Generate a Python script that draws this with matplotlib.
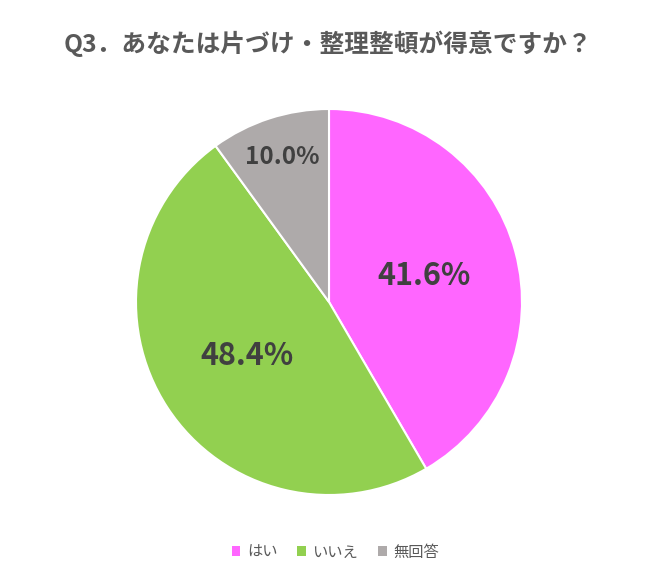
import numpy as np
import matplotlib.pyplot as plt
from matplotlib.patches import Patch

plt.rcParams['font.family'] = ['Noto Sans CJK JP', 'DejaVu Sans']

title = "Q3．あなたは片づけ・整理整頓が得意ですか？"
labels = ["はい", "いいえ", "無回答"]
values = [41.6, 48.4, 10.0]
colors = ["#FF66FF", "#92D050", "#AEAAAA"]
label_dist = [0.51, 0.51, 0.79]
label_size = [22, 22, 17.5]


def main():
    fig = plt.figure(figsize=(6.5, 5.82), dpi=100)

    cx, cy, r = 329 / 650, 1 - 302 / 582, 193
    rw, rh = r / 650, r / 582
    ax = fig.add_axes([cx - rw, cy - rh, 2 * rw, 2 * rh])

    wedges, _ = ax.pie(values, colors=colors, startangle=90, counterclock=False,
                       radius=1, wedgeprops=dict(edgecolor='white', linewidth=1.5))
    ax.set_xlim(-1, 1)
    ax.set_ylim(-1, 1)
    ax.set_aspect('auto')
    ax.axis('off')

    for w, v, d, fs in zip(wedges, values, label_dist, label_size):
        ang = np.deg2rad((w.theta1 + w.theta2) / 2)
        ax.text(d * np.cos(ang), d * np.sin(ang), f"{v:.1f}%", ha='center', va='center',
                fontsize=fs, fontweight='bold', color='#404040')

    fig.text(0.505, 1 - 44 / 582, title, ha='center', va='center', fontsize=17.8,
             fontweight='bold', color='#595959')

    handles = [Patch(facecolor=c, edgecolor='none', label=l) for c, l in zip(colors, labels)]
    fig.legend(handles=handles, loc='center', bbox_to_anchor=(0.516, 1 - 552 / 582), ncol=3,
               frameon=False, fontsize=11, handlelength=0.55, handleheight=0.55,
               handletextpad=0.45, columnspacing=1.3, labelcolor='#595959')

    fig.savefig("out.png", dpi=100)
    plt.close(fig)


if __name__ == "__main__":
    main()
